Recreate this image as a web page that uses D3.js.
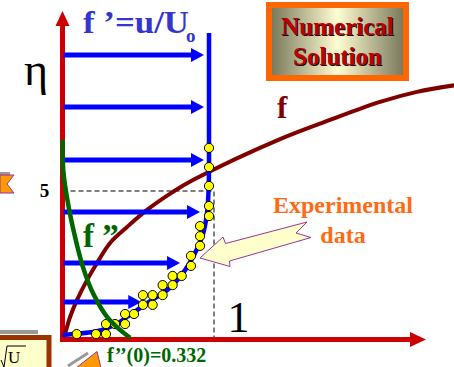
<!DOCTYPE html>
<html>
<head>
<meta charset="utf-8">
<script src="https://cdn.jsdelivr.net/npm/d3@7"></script>
<style>
  html, body { margin: 0; padding: 0; background: #fff; }
  svg { display: block; }
  text { font-family: "Liberation Serif", "Times New Roman", serif; }
</style>
</head>
<body>
<div id="chart"></div>
<script>
// Blasius boundary layer sketch: f, f', f'' versus eta, plus experimental points

// velocity arrows: eta position and arrow tip (f')
const arrowEta = [9.61, 7.85, 6.05, 4.29, 2.56, 1.24];
const arrowTip = [0.934, 0.934, 0.934, 0.908, 0.776, 0.52];

// numerical velocity profile f'(eta)
const profileF1 = [0.003, 0.201, 0.314, 0.426, 0.558, 0.69, 0.795, 0.861, 0.921, 0.954, 0.964, 0.967, 0.967];
const profileEta = [0.12, 0.22, 0.39, 0.73, 1.20, 1.64, 2.22, 2.76, 3.44, 4.25, 5.03, 5.71, 10.36];

// experimental data (yellow dots)
const expF1 = [0.094, 0.221, 0.287, 0.287, 0.347, 0.413, 0.413, 0.472, 0.531, 0.595, 0.531, 0.595, 0.661,
  0.661, 0.727, 0.727, 0.787, 0.848, 0.848, 0.908, 0.908, 0.908, 0.967, 0.967, 0.967, 0.967, 0.967];
const expEta = [0.15, 0.15, 0.15, 0.49, 0.49, 0.49, 0.83, 0.83, 1.14, 1.14, 1.47, 1.47, 1.47,
  1.81, 1.81, 2.12, 2.12, 2.46, 2.80, 3.14, 3.47, 3.81, 4.15, 4.49, 5.17, 5.81, 6.46];

// f(eta) curve (drawn in the same frame)
const fX = [0.003, 0.017, 0.05, 0.096, 0.162, 0.228, 0.314, 0.426, 0.558, 0.729, 0.861,
  1.436, 1.766, 2.096, 2.34, 2.597];
const fEta = [0.05, 0.19, 0.73, 1.31, 1.98, 2.56, 3.24, 3.78, 4.36, 4.97, 5.37,
  6.76, 7.41, 8.02, 8.36, 8.59];

// f''(eta) curve
const f2X = [0.002, 0.005, 0.036, 0.083, 0.135, 0.201, 0.294, 0.38, 0.446];
const f2Eta = [6.73, 5.71, 4.59, 3.44, 2.42, 1.54, 0.73, 0.29, 0.02];

// tick labels
const etaTick = 5;
const f1Tick = 1;

const width = 454, height = 367;

const svg = d3.select('#chart')
  .append('svg')
  .attr('width', width)
  .attr('height', height);

const x = d3.scaleLinear().domain([0, 1]).range([62.5, 214]);
const y = d3.scaleLinear().domain([0, 5]).range([338.5, 191]);

const line = d3.line()
  .x(d => x(d[0]))
  .y(d => y(d[1]))
  .curve(d3.curveCatmullRom.alpha(0.5));

// gradient for the "Numerical Solution" box
const defs = svg.append('defs');
const grad = defs.append('linearGradient').attr('id', 'boxGrad');
grad.append('stop').attr('offset', '0%').attr('stop-color', '#7a7a5c');
grad.append('stop').attr('offset', '50%').attr('stop-color', '#fffdd2');
grad.append('stop').attr('offset', '100%').attr('stop-color', '#7a7a5c');

// side decorations (cut-off shapes from the slide)
svg.append('rect').attr('x', 0).attr('y', 172).attr('width', 10).attr('height', 3).attr('fill', '#999');
svg.append('path')
  .attr('d', 'M0,175 L14,175 L7,184 L14,193 L0,193 Z')
  .attr('fill', '#ff9900').attr('stroke', '#993399').attr('stroke-width', 1);

svg.append('rect').attr('x', 0).attr('y', 330).attr('width', 38).attr('height', 4).attr('fill', '#999');
svg.append('rect').attr('x', -3).attr('y', 337.5).attr('width', 52).attr('height', 34)
  .attr('fill', '#ffffcc').attr('stroke', '#993300').attr('stroke-width', 5);
svg.append('path').attr('d', 'M1,360 L4,367 M4,367 L7,346 L26,346')
  .attr('fill', 'none').attr('stroke', '#000').attr('stroke-width', 1);
svg.append('text').attr('x', 8).attr('y', 363).attr('font-size', 17).text('U');

svg.append('path').attr('d', 'M68,366 L88,353').attr('stroke', '#999').attr('stroke-width', 3);
svg.append('path').attr('d', 'M76,368 L97,351.5 L101,368 Z')
  .attr('fill', '#ff9900').attr('stroke', '#993399').attr('stroke-width', 1);

// dashed guides at eta = 5 and f' = 1
svg.append('path')
  .attr('d', `M${x(0)},${y(etaTick)} H${x(f1Tick)} V${y(0)}`)
  .attr('fill', 'none').attr('stroke', '#000').attr('stroke-width', 1)
  .attr('stroke-dasharray', '5,3');

// red axes with arrowheads
const axisColor = '#cc0000';
svg.append('line')
  .attr('x1', x(0)).attr('x2', x(0)).attr('y1', y(0) + 3).attr('y2', 24)
  .attr('stroke', axisColor).attr('stroke-width', 5);
svg.append('path')
  .attr('d', `M${x(0)},11 L${x(0) - 7},26 L${x(0) + 7},26 Z`).attr('fill', axisColor);
svg.append('line')
  .attr('x1', x(0) - 2.5).attr('x2', 411).attr('y1', y(0) + 1).attr('y2', y(0) + 1)
  .attr('stroke', axisColor).attr('stroke-width', 5);
svg.append('path')
  .attr('d', `M426,${y(0) + 1} L410,${y(0) - 6.5} L410,${y(0) + 8.5} Z`).attr('fill', axisColor);

// f curve
svg.append('path')
  .datum(fX.map((v, i) => [v, fEta[i]]))
  .attr('fill', 'none').attr('stroke', '#800000').attr('stroke-width', 4)
  .attr('d', line);

// velocity arrows
const blue = '#0000ff';
const arrows = svg.append('g');
arrowEta.forEach((e, i) => {
  const tx = x(arrowTip[i]), ty = y(e);
  arrows.append('line')
    .attr('x1', x(0) + 1).attr('x2', tx - 10).attr('y1', ty).attr('y2', ty)
    .attr('stroke', blue).attr('stroke-width', 5);
  arrows.append('path')
    .attr('d', `M${tx},${ty} L${tx - 13},${ty - 7} L${tx - 13},${ty + 7} Z`)
    .attr('fill', blue);
});

// velocity profile
svg.append('path')
  .datum(profileF1.map((v, i) => [v, profileEta[i]]))
  .attr('fill', 'none').attr('stroke', blue).attr('stroke-width', 4.5)
  .attr('stroke-linejoin', 'round')
  .attr('d', d3.line().x(d => x(d[0])).y(d => y(d[1])).curve(d3.curveMonotoneY));

// experimental points
svg.append('g')
  .selectAll('circle')
  .data(expF1.map((v, i) => [v, expEta[i]]))
  .join('circle')
  .attr('cx', d => x(d[0]))
  .attr('cy', d => y(d[1]))
  .attr('r', 4.6)
  .attr('fill', '#ffff00')
  .attr('stroke', '#000')
  .attr('stroke-width', 1);

// f'' curve
svg.append('path')
  .datum(f2X.map((v, i) => [v, f2Eta[i]]))
  .attr('fill', 'none').attr('stroke', '#006600').attr('stroke-width', 4.5)
  .attr('d', line);

// callout arrow to the experimental data
svg.append('path')
  .attr('d', 'M200,258 L223,237 L225.5,243.5 L307,222 L296,233 L311,237.5 L229.5,261 L230,266.5 Z')
  .attr('fill', '#ffffcc').attr('stroke', '#993399').attr('stroke-width', 1);

// Numerical Solution box
svg.append('rect').attr('x', 266).attr('y', 2).attr('width', 143).attr('height', 79).attr('fill', '#ff6600');
svg.append('rect').attr('x', 272).attr('y', 8).attr('width', 131).attr('height', 67).attr('fill', 'url(#boxGrad)');
['Numerical', 'Solution'].forEach((t, i) => {
  svg.append('text').attr('x', 338.5).attr('y', 36 + i * 29.5)
    .attr('text-anchor', 'middle').attr('font-size', 25).attr('font-weight', 'bold')
    .attr('fill', '#000').text(t);
  svg.append('text').attr('x', 337.5).attr('y', 35 + i * 29.5)
    .attr('text-anchor', 'middle').attr('font-size', 25).attr('font-weight', 'bold')
    .attr('fill', '#c00000').text(t);
});

// labels
svg.append('text').attr('x', 83).attr('y', 33)
  .attr('font-size', 31).attr('font-weight', 'bold').attr('fill', '#3434cf')
  .attr('textLength', 106).attr('lengthAdjust', 'spacingAndGlyphs')
  .text('f \u2019=u/U');
svg.append('text').attr('x', 186).attr('y', 42)
  .attr('font-size', 19).attr('font-weight', 'bold').attr('fill', '#3434cf').text('o');

svg.append('text').attr('x', 24).attr('y', 85).attr('font-size', 46).attr('fill', '#000').text('\u03b7');

svg.append('text').attr('x', 277).attr('y', 118)
  .attr('font-size', 31).attr('font-weight', 'bold').attr('fill', '#800000').text('f');

svg.append('text').attr('x', 83).attr('y', 247)
  .attr('font-size', 33).attr('font-weight', 'bold').attr('fill', '#006600').text('f \u201d');

svg.append('text').attr('x', 107).attr('y', 362)
  .attr('font-size', 20).attr('font-weight', 'bold').attr('fill', '#006600').text('f\u2019\u2019(0)=0.332');

['Experimental', 'data'].forEach((t, i) => {
  svg.append('text').attr('x', 343).attr('y', 213 + i * 30)
    .attr('text-anchor', 'middle').attr('font-size', 24).attr('font-weight', 'bold')
    .attr('fill', '#ff6a13').text(t);
});

svg.append('text').attr('x', 44.5).attr('y', 196.5)
  .attr('text-anchor', 'middle').attr('font-size', 19).attr('font-weight', 'bold').text(etaTick);

svg.append('text').attr('x', 238.5).attr('y', 332)
  .attr('text-anchor', 'middle').attr('font-size', 44).text(f1Tick);
</script>
</body>
</html>
